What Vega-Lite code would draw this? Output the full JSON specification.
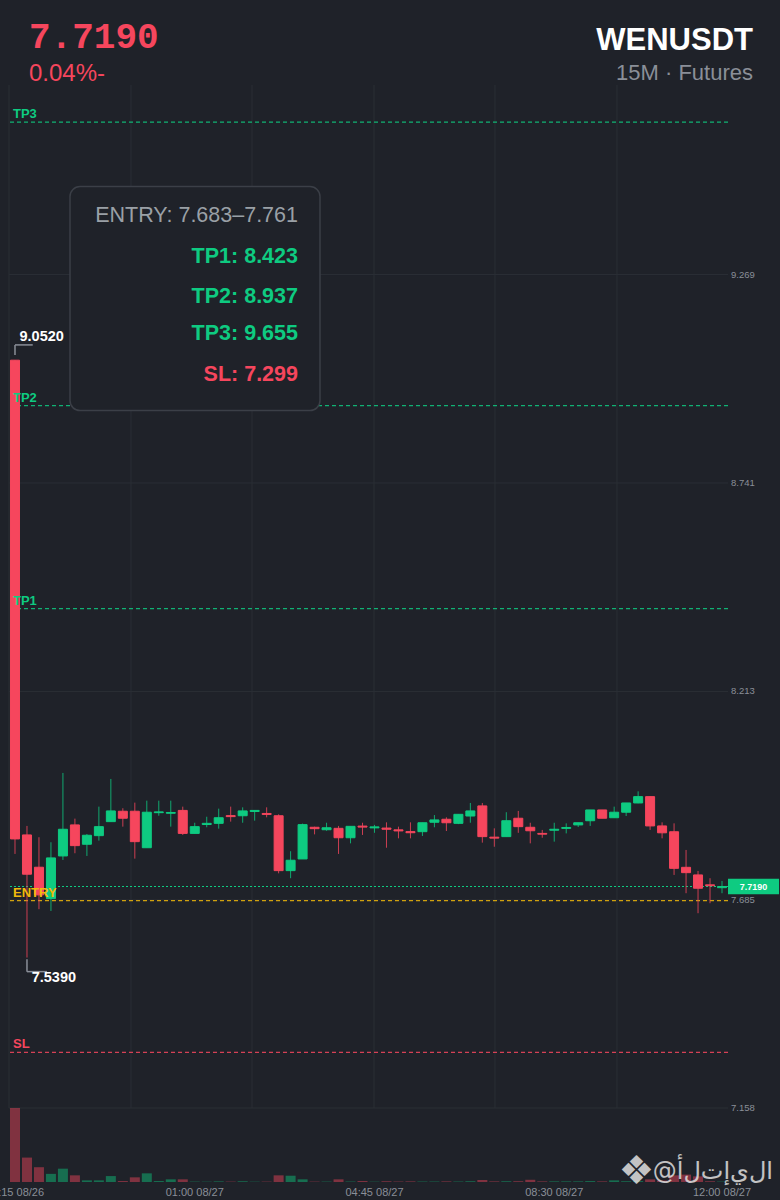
{
  "$schema": "https://vega.github.io/schema/vega-lite/v6.json",
  "padding": {"left": -15, "top": 18, "right": 2, "bottom": 1},
  "spacing": 0,
  "bounds": "flush",
  "config": {
    "background": "#1f2229",
    "view": {"stroke": null},
    "font": "Liberation Sans"
  },
  "datasets": {
    "candles": [
      {"t":"2025-08-26T21:15:00","o":9.052,"h":9.052,"l":7.8015,"c":7.8395,"v":100},
      {"t":"2025-08-26T21:30:00","o":7.8496,"h":7.8724,"l":7.539,"c":7.7501,"v":33},
      {"t":"2025-08-26T21:45:00","o":7.7678,"h":7.8438,"l":7.6615,"c":7.6977,"v":20},
      {"t":"2025-08-26T22:00:00","o":7.6883,"h":7.8311,"l":7.6571,"c":7.7914,"v":11},
      {"t":"2025-08-26T22:15:00","o":7.7964,"h":8.0066,"l":7.7863,"c":7.864,"v":18},
      {"t":"2025-08-26T22:30:00","o":7.875,"h":7.8909,"l":7.8032,"c":7.8225,"v":9},
      {"t":"2025-08-26T22:45:00","o":7.826,"h":7.8519,"l":7.7964,"c":7.8488,"v":2.2},
      {"t":"2025-08-26T23:00:00","o":7.8478,"h":7.9213,"l":7.8352,"c":7.8706,"v":2.2},
      {"t":"2025-08-26T23:15:00","o":7.8833,"h":7.9914,"l":7.8833,"c":7.9104,"v":8},
      {"t":"2025-08-26T23:30:00","o":7.9096,"h":7.9172,"l":7.8706,"c":7.8919,"v":1.3},
      {"t":"2025-08-26T23:45:00","o":7.9096,"h":7.9314,"l":7.7896,"c":7.8326,"v":6.3},
      {"t":"2025-08-27T00:00:00","o":7.8172,"h":7.9364,"l":7.8172,"c":7.9071,"v":11.7},
      {"t":"2025-08-27T00:15:00","o":7.906,"h":7.9364,"l":7.8982,"c":7.908,"v":1.3},
      {"t":"2025-08-27T00:30:00","o":7.9045,"h":7.9364,"l":7.8706,"c":7.9065,"v":3.6},
      {"t":"2025-08-27T00:45:00","o":7.9117,"h":7.9213,"l":7.8496,"c":7.8535,"v":3.6},
      {"t":"2025-08-27T01:00:00","o":7.8535,"h":7.8805,"l":7.8535,"c":7.8706,"v":0.5},
      {"t":"2025-08-27T01:15:00","o":7.876,"h":7.8957,"l":7.869,"c":7.879,"v":0.4},
      {"t":"2025-08-27T01:30:00","o":7.879,"h":7.9162,"l":7.8655,"c":7.8932,"v":0.8},
      {"t":"2025-08-27T01:45:00","o":7.8985,"h":7.9213,"l":7.8833,"c":7.896,"v":0.5},
      {"t":"2025-08-27T02:00:00","o":7.8982,"h":7.9195,"l":7.8805,"c":7.9104,"v":1.0},
      {"t":"2025-08-27T02:15:00","o":7.909,"h":7.9117,"l":7.8858,"c":7.9117,"v":0.4},
      {"t":"2025-08-27T02:30:00","o":7.904,"h":7.9195,"l":7.8942,"c":7.9015,"v":0.5},
      {"t":"2025-08-27T02:45:00","o":7.8982,"h":7.9018,"l":7.7524,"c":7.7592,"v":9},
      {"t":"2025-08-27T03:00:00","o":7.7592,"h":7.8083,"l":7.74,"c":7.7855,"v":8.5},
      {"t":"2025-08-27T03:15:00","o":7.7888,"h":7.8783,"l":7.7888,"c":7.8757,"v":3.6},
      {"t":"2025-08-27T03:30:00","o":7.869,"h":7.8706,"l":7.8511,"c":7.8655,"v":0.5},
      {"t":"2025-08-27T03:45:00","o":7.8628,"h":7.8805,"l":7.8602,"c":7.8678,"v":0.5},
      {"t":"2025-08-27T04:00:00","o":7.8663,"h":7.8724,"l":7.8015,"c":7.8425,"v":3.6},
      {"t":"2025-08-27T04:15:00","o":7.8425,"h":7.8714,"l":7.8283,"c":7.8714,"v":0.6},
      {"t":"2025-08-27T04:30:00","o":7.872,"h":7.8805,"l":7.8496,"c":7.8695,"v":1.3},
      {"t":"2025-08-27T04:45:00","o":7.8675,"h":7.875,"l":7.855,"c":7.87,"v":0.4},
      {"t":"2025-08-27T05:00:00","o":7.867,"h":7.8815,"l":7.8172,"c":7.864,"v":1.0},
      {"t":"2025-08-27T05:15:00","o":7.8625,"h":7.8706,"l":7.841,"c":7.8598,"v":0.6},
      {"t":"2025-08-27T05:30:00","o":7.858,"h":7.8815,"l":7.841,"c":7.8552,"v":0.8},
      {"t":"2025-08-27T05:45:00","o":7.8579,"h":7.8805,"l":7.847,"c":7.8805,"v":0.6},
      {"t":"2025-08-27T06:00:00","o":7.8817,"h":7.8999,"l":7.869,"c":7.8876,"v":0.6},
      {"t":"2025-08-27T06:15:00","o":7.8893,"h":7.8942,"l":7.8595,"c":7.8805,"v":0.8},
      {"t":"2025-08-27T06:30:00","o":7.879,"h":7.9018,"l":7.877,"c":7.9018,"v":0.6},
      {"t":"2025-08-27T06:45:00","o":7.8975,"h":7.9306,"l":7.8805,"c":7.9104,"v":1.0},
      {"t":"2025-08-27T07:00:00","o":7.9231,"h":7.9306,"l":7.8301,"c":7.8453,"v":2.7},
      {"t":"2025-08-27T07:15:00","o":7.844,"h":7.8663,"l":7.8197,"c":7.8415,"v":0.8},
      {"t":"2025-08-27T07:30:00","o":7.8453,"h":7.9071,"l":7.8453,"c":7.8856,"v":1.0},
      {"t":"2025-08-27T07:45:00","o":7.8919,"h":7.9104,"l":7.855,"c":7.8706,"v":1.0},
      {"t":"2025-08-27T08:00:00","o":7.869,"h":7.8805,"l":7.8283,"c":7.8602,"v":3.0},
      {"t":"2025-08-27T08:15:00","o":7.8535,"h":7.8623,"l":7.8425,"c":7.8515,"v":0.8},
      {"t":"2025-08-27T08:30:00","o":7.8615,"h":7.8805,"l":7.8326,"c":7.864,"v":0.8},
      {"t":"2025-08-27T08:45:00","o":7.8662,"h":7.879,"l":7.8535,"c":7.8685,"v":0.8},
      {"t":"2025-08-27T09:00:00","o":7.875,"h":7.8805,"l":7.8696,"c":7.8805,"v":0.8},
      {"t":"2025-08-27T09:15:00","o":7.8856,"h":7.9129,"l":7.8724,"c":7.9129,"v":1.2},
      {"t":"2025-08-27T09:30:00","o":7.9129,"h":7.9129,"l":7.8919,"c":7.8919,"v":0.8},
      {"t":"2025-08-27T09:45:00","o":7.8932,"h":7.9213,"l":7.8925,"c":7.9071,"v":2.2},
      {"t":"2025-08-27T10:00:00","o":7.9071,"h":7.9306,"l":7.8975,"c":7.9306,"v":1.0},
      {"t":"2025-08-27T10:15:00","o":7.9306,"h":7.96,"l":7.9298,"c":7.9466,"v":1.2},
      {"t":"2025-08-27T10:30:00","o":7.9466,"h":7.9466,"l":7.8623,"c":7.8724,"v":3.6},
      {"t":"2025-08-27T10:45:00","o":7.8724,"h":7.8815,"l":7.841,"c":7.855,"v":2.0},
      {"t":"2025-08-27T11:00:00","o":7.8577,"h":7.879,"l":7.7483,"c":7.765,"v":9},
      {"t":"2025-08-27T11:15:00","o":7.7676,"h":7.8116,"l":7.702,"c":7.7541,"v":10},
      {"t":"2025-08-27T11:30:00","o":7.7483,"h":7.7584,"l":7.6513,"c":7.7146,"v":7.6},
      {"t":"2025-08-27T11:45:00","o":7.7232,"h":7.74,"l":7.6766,"c":7.721,"v":1.0},
      {"t":"2025-08-27T12:00:00","o":7.716,"h":7.7331,"l":7.702,"c":7.719,"v":0.5}
    ],
    "levels": [
      {"lvl":"TP3","p":9.655},
      {"lvl":"TP2","p":8.937},
      {"lvl":"TP1","p":8.423},
      {"lvl":"ENTRY","p":7.683},
      {"lvl":"SL","p":7.299}
    ],
    "vgrid": [
      {"g":"2025-08-26T21:07:30"},
      {"g":"2025-08-26T23:40:12"},
      {"g":"2025-08-27T02:11:42"},
      {"g":"2025-08-27T04:44:24"},
      {"g":"2025-08-27T07:15:48"},
      {"g":"2025-08-27T09:48:30"}
    ],
    "yticks": [
      {"tick": 9.269},
      {"tick": 8.741},
      {"tick": 8.213},
      {"tick": 7.685},
      {"tick": 7.158}
    ],
    "xticks": [
      {"lt":"2025-08-26T21:15:00"},
      {"lt":"2025-08-27T01:00:00"},
      {"lt":"2025-08-27T04:45:00"},
      {"lt":"2025-08-27T08:30:00"},
      {"lt":"2025-08-27T12:00:00"}
    ]
  },
  "vconcat": [
    {
      "width": 719,
      "height": 1023,
      "layer": [
        {
          "data": {"name": "vgrid"},
          "mark": {"type": "rule", "color": "#2a2e35", "strokeWidth": 1},
          "encoding": {
            "x": {
              "field": "g", "type": "temporal", "axis": null,
              "scale": {"padding": 0, "domain": [
                {"year": 2025, "month": 8, "date": 26, "hours": 21, "minutes": 7, "seconds": 30},
                {"year": 2025, "month": 8, "date": 27, "hours": 12, "minutes": 7, "seconds": 30}
              ]}
            }
          }
        },
        {
          "data": {"name": "yticks"},
          "mark": {"type": "rule", "color": "#2a2e35", "strokeWidth": 1},
          "encoding": {
            "y": {"field": "tick", "type": "quantitative", "axis": null,
              "scale": {"domain": [7.158, 9.749], "nice": false, "zero": false, "padding": 0}}
          }
        },
        {
          "data": {"name": "yticks"},
          "mark": {"type": "text", "align": "left", "baseline": "middle", "dx": 3, "fontSize": 9.5, "color": "#8a8f98", "font": "Liberation Sans"},
          "encoding": {
            "x": {"datum": {"year": 2025, "month": 8, "date": 27, "hours": 12, "minutes": 7, "seconds": 30}, "axis": null},
            "y": {"field": "tick", "type": "quantitative", "axis": null},
            "text": {"field": "tick", "type": "quantitative", "format": ".3f"}
          }
        },
        {
          "data": {"name": "levels"},
          "mark": {"type": "rule", "strokeDash": [4, 3], "strokeWidth": 1.2, "opacity": 0.85},
          "encoding": {
            "y": {"field": "p", "type": "quantitative", "axis": null},
            "color": {
              "field": "lvl", "type": "nominal", "legend": null,
              "scale": {"domain": ["TP3", "TP2", "TP1", "ENTRY", "SL"], "range": ["#0ecb81", "#0ecb81", "#0ecb81", "#f0b90b", "#f6465d"]}
            }
          }
        },
        {
          "data": {"values": [{"p": 7.719}]},
          "mark": {"type": "rule", "color": "#0ecb81", "strokeDash": [2, 2], "strokeWidth": 1},
          "encoding": {"y": {"field": "p", "type": "quantitative", "axis": null}}
        },
        {
          "data": {"values": [{}]},
          "mark": {"type": "rect", "fill": "#1f2229", "stroke": "#3b3f47", "strokeWidth": 1.5, "cornerRadius": 10},
          "encoding": {
            "x": {"datum": {"year": 2025, "month": 8, "date": 26, "hours": 22, "minutes": 23, "seconds": 51}, "axis": null},
            "x2": {"datum": {"year": 2025, "month": 8, "date": 27, "hours": 3, "minutes": 36, "seconds": 48}},
            "y": {"datum": 9.4917, "axis": null},
            "y2": {"datum": 8.9244}
          }
        },
        {
          "data": {"values": [{}]},
          "mark": {"type": "text", "text": "ENTRY: 7.683–7.761", "align": "right", "baseline": "middle", "fontSize": 21.5, "color": "#9aa0a6", "font": "Liberation Sans"},
          "encoding": {
            "x": {"datum": {"year": 2025, "month": 8, "date": 27, "hours": 3, "minutes": 9, "seconds": 15}, "axis": null},
            "y": {"datum": 9.4175, "axis": null}
          }
        },
        {
          "data": {"values": [{}]},
          "mark": {"type": "text", "text": "TP1: 8.423", "align": "right", "baseline": "middle", "fontSize": 21.5, "fontWeight": "bold", "color": "#0ecb81", "font": "Liberation Sans"},
          "encoding": {
            "x": {"datum": {"year": 2025, "month": 8, "date": 27, "hours": 3, "minutes": 9, "seconds": 15}, "axis": null},
            "y": {"datum": 9.3128, "axis": null}
          }
        },
        {
          "data": {"values": [{}]},
          "mark": {"type": "text", "text": "TP2: 8.937", "align": "right", "baseline": "middle", "fontSize": 21.5, "fontWeight": "bold", "color": "#0ecb81", "font": "Liberation Sans"},
          "encoding": {
            "x": {"datum": {"year": 2025, "month": 8, "date": 27, "hours": 3, "minutes": 9, "seconds": 15}, "axis": null},
            "y": {"datum": 9.2131, "axis": null}
          }
        },
        {
          "data": {"values": [{}]},
          "mark": {"type": "text", "text": "TP3: 9.655", "align": "right", "baseline": "middle", "fontSize": 21.5, "fontWeight": "bold", "color": "#0ecb81", "font": "Liberation Sans"},
          "encoding": {
            "x": {"datum": {"year": 2025, "month": 8, "date": 27, "hours": 3, "minutes": 9, "seconds": 15}, "axis": null},
            "y": {"datum": 9.1179, "axis": null}
          }
        },
        {
          "data": {"values": [{}]},
          "mark": {"type": "text", "text": "SL: 7.299", "align": "right", "baseline": "middle", "fontSize": 21.5, "fontWeight": "bold", "color": "#f6465d", "font": "Liberation Sans"},
          "encoding": {
            "x": {"datum": {"year": 2025, "month": 8, "date": 27, "hours": 3, "minutes": 9, "seconds": 15}, "axis": null},
            "y": {"datum": 9.0148, "axis": null}
          }
        },
        {
          "data": {"name": "candles"},
          "mark": {"type": "rule", "strokeWidth": 1, "opacity": 0.8},
          "encoding": {
            "x": {"field": "t", "type": "temporal", "axis": null},
            "y": {"field": "l", "type": "quantitative", "axis": null},
            "y2": {"field": "h"},
            "color": {"condition": {"test": "datum.c >= datum.o", "value": "#0ecb81"}, "value": "#f6465d"}
          }
        },
        {
          "data": {"name": "candles"},
          "mark": {"type": "bar", "width": 9, "strokeWidth": 1},
          "encoding": {
            "x": {"field": "t", "type": "temporal", "axis": null},
            "y": {"field": "o", "type": "quantitative", "axis": null},
            "y2": {"field": "c"},
            "color": {"condition": {"test": "datum.c >= datum.o", "value": "#0ecb81"}, "value": "#f6465d"},
            "stroke": {"condition": {"test": "datum.c >= datum.o", "value": "#0ecb81"}, "value": "#f6465d"}
          }
        },
        {
          "data": {"name": "levels"},
          "mark": {"type": "text", "align": "left", "baseline": "alphabetic", "dx": 4, "dy": -4, "fontSize": 13, "fontWeight": "bold", "font": "Liberation Sans"},
          "encoding": {
            "x": {"datum": {"year": 2025, "month": 8, "date": 26, "hours": 21, "minutes": 7, "seconds": 30}, "axis": null},
            "y": {"field": "p", "type": "quantitative", "axis": null},
            "text": {"field": "lvl", "type": "nominal"},
            "color": {"field": "lvl", "type": "nominal", "legend": null}
          }
        },
        {
          "data": {"values": [{}]},
          "mark": {"type": "rule", "color": "#8a8f98", "strokeWidth": 1.5},
          "encoding": {
            "x": {"datum": {"year": 2025, "month": 8, "date": 26, "hours": 21, "minutes": 15}, "axis": null},
            "y": {"datum": 9.0654, "axis": null},
            "y2": {"datum": 9.0907}
          }
        },
        {
          "data": {"values": [{}]},
          "mark": {"type": "rule", "color": "#8a8f98", "strokeWidth": 1.5},
          "encoding": {
            "x": {"datum": {"year": 2025, "month": 8, "date": 26, "hours": 21, "minutes": 15}, "axis": null},
            "x2": {"datum": {"year": 2025, "month": 8, "date": 26, "hours": 21, "minutes": 37, "seconds": 12}},
            "y": {"datum": 9.0907, "axis": null}
          }
        },
        {
          "data": {"values": [{}]},
          "mark": {"type": "text", "text": "9.0520", "align": "left", "baseline": "middle", "dx": 4.5, "fontSize": 14.5, "fontWeight": "bold", "color": "#ffffff", "font": "Liberation Sans"},
          "encoding": {
            "x": {"datum": {"year": 2025, "month": 8, "date": 26, "hours": 21, "minutes": 15}, "axis": null},
            "y": {"datum": 9.1117, "axis": null}
          }
        },
        {
          "data": {"values": [{}]},
          "mark": {"type": "rule", "color": "#8a8f98", "strokeWidth": 1.5},
          "encoding": {
            "x": {"datum": {"year": 2025, "month": 8, "date": 26, "hours": 21, "minutes": 30}, "axis": null},
            "y": {"datum": 7.5348, "axis": null},
            "y2": {"datum": 7.5034}
          }
        },
        {
          "data": {"values": [{}]},
          "mark": {"type": "rule", "color": "#8a8f98", "strokeWidth": 1.5},
          "encoding": {
            "x": {"datum": {"year": 2025, "month": 8, "date": 26, "hours": 21, "minutes": 30}, "axis": null},
            "x2": {"datum": {"year": 2025, "month": 8, "date": 26, "hours": 21, "minutes": 55, "seconds": 4}},
            "y": {"datum": 7.5034, "axis": null}
          }
        },
        {
          "data": {"values": [{}]},
          "mark": {"type": "text", "text": "7.5390", "align": "left", "baseline": "middle", "dx": 4.7, "fontSize": 14.5, "fontWeight": "bold", "color": "#ffffff", "font": "Liberation Sans"},
          "encoding": {
            "x": {"datum": {"year": 2025, "month": 8, "date": 26, "hours": 21, "minutes": 30}, "axis": null},
            "y": {"datum": 7.4874, "axis": null}
          }
        },
        {
          "data": {"values": [{}]},
          "mark": {"type": "rect", "fill": "#0ecb81"},
          "encoding": {
            "x": {"datum": {"year": 2025, "month": 8, "date": 27, "hours": 12, "minutes": 7, "seconds": 30}, "axis": null},
            "x2": {"datum": {"year": 2025, "month": 8, "date": 27, "hours": 13, "minutes": 11, "seconds": 24}},
            "y": {"datum": 7.7388, "axis": null},
            "y2": {"datum": 7.6992}
          }
        },
        {
          "data": {"values": [{}]},
          "mark": {"type": "text", "text": "7.7190", "align": "center", "baseline": "middle", "fontSize": 9, "fontWeight": "bold", "color": "#ffffff", "font": "Liberation Sans"},
          "encoding": {
            "x": {"datum": {"year": 2025, "month": 8, "date": 27, "hours": 12, "minutes": 39, "seconds": 27}, "axis": null},
            "y": {"datum": 7.719, "axis": null}
          }
        },
        {
          "data": {"values": [{}]},
          "mark": {"type": "text", "text": "7.7190", "align": "left", "baseline": "alphabetic", "dx": 20, "fontSize": 36, "fontWeight": "bold", "color": "#f6465d", "font": "Liberation Mono"},
          "encoding": {
            "x": {"datum": {"year": 2025, "month": 8, "date": 26, "hours": 21, "minutes": 7, "seconds": 30}, "axis": null},
            "y": {"datum": 9.8438, "axis": null}
          }
        },
        {
          "data": {"values": [{}]},
          "mark": {"type": "text", "text": "0.04%-", "align": "left", "baseline": "alphabetic", "dx": 20, "fontSize": 24, "color": "#f6465d", "font": "Liberation Sans"},
          "encoding": {
            "x": {"datum": {"year": 2025, "month": 8, "date": 26, "hours": 21, "minutes": 7, "seconds": 30}, "axis": null},
            "y": {"datum": 9.7582, "axis": null}
          }
        },
        {
          "data": {"values": [{}]},
          "mark": {"type": "text", "text": "WENUSDT", "align": "right", "baseline": "alphabetic", "dx": 25, "fontSize": 31, "fontWeight": "bold", "color": "#ffffff", "font": "Liberation Sans"},
          "encoding": {
            "x": {"datum": {"year": 2025, "month": 8, "date": 27, "hours": 12, "minutes": 7, "seconds": 30}, "axis": null},
            "y": {"datum": 9.838, "axis": null}
          }
        },
        {
          "data": {"values": [{}]},
          "mark": {"type": "text", "text": "15M · Futures", "align": "right", "baseline": "alphabetic", "dx": 25, "fontSize": 22, "color": "#8a8f98", "font": "Liberation Sans"},
          "encoding": {
            "x": {"datum": {"year": 2025, "month": 8, "date": 27, "hours": 12, "minutes": 7, "seconds": 30}, "axis": null},
            "y": {"datum": 9.762, "axis": null}
          }
        }
      ]
    },
    {
      "width": 719,
      "height": 74,
      "layer": [
        {
          "data": {"name": "candles"},
          "mark": {"type": "bar", "width": 10, "opacity": 0.45},
          "encoding": {
            "x": {
              "field": "t", "type": "temporal", "axis": null,
              "scale": {"padding": 0, "domain": [
                {"year": 2025, "month": 8, "date": 26, "hours": 21, "minutes": 7, "seconds": 30},
                {"year": 2025, "month": 8, "date": 27, "hours": 12, "minutes": 7, "seconds": 30}
              ]}
            },
            "y": {"field": "v", "type": "quantitative", "scale": {"domain": [0, 100], "padding": 0}, "axis": null},
            "color": {"condition": {"test": "datum.c >= datum.o", "value": "#0ecb81"}, "value": "#f6465d"}
          }
        },
        {
          "data": {"name": "xticks"},
          "mark": {"type": "text", "align": "center", "baseline": "middle", "fontSize": 11, "color": "#8a8f98", "font": "Liberation Sans"},
          "encoding": {
            "x": {"field": "lt", "type": "temporal", "axis": null},
            "y": {"datum": -15.5, "axis": null},
            "text": {"field": "lt", "type": "temporal", "format": "%H:%M %m/%d"}
          }
        },
        {
          "data": {"values": [{}]},
          "mark": {"type": "text", "text": "❖", "font": "DejaVu Sans", "fontSize": 40, "color": "#e0e0e0", "opacity": 0.85, "align": "center", "baseline": "middle", "dx": -91.5},
          "encoding": {
            "x": {"datum": {"year": 2025, "month": 8, "date": 27, "hours": 12, "minutes": 7, "seconds": 30}, "axis": null},
            "y": {"datum": 13.5, "axis": null}
          }
        },
        {
          "data": {"values": [{}]},
          "mark": {"type": "text", "text": "@ﺍﻝﻱﺇﺕﻝﺃ", "font": "DejaVu Sans", "fontSize": 24, "color": "#e0e0e0", "opacity": 0.85, "align": "right", "baseline": "middle", "dx": 45},
          "encoding": {
            "x": {"datum": {"year": 2025, "month": 8, "date": 27, "hours": 12, "minutes": 7, "seconds": 30}, "axis": null},
            "y": {"datum": 13.5, "axis": null}
          }
        }
      ]
    }
  ]
}
